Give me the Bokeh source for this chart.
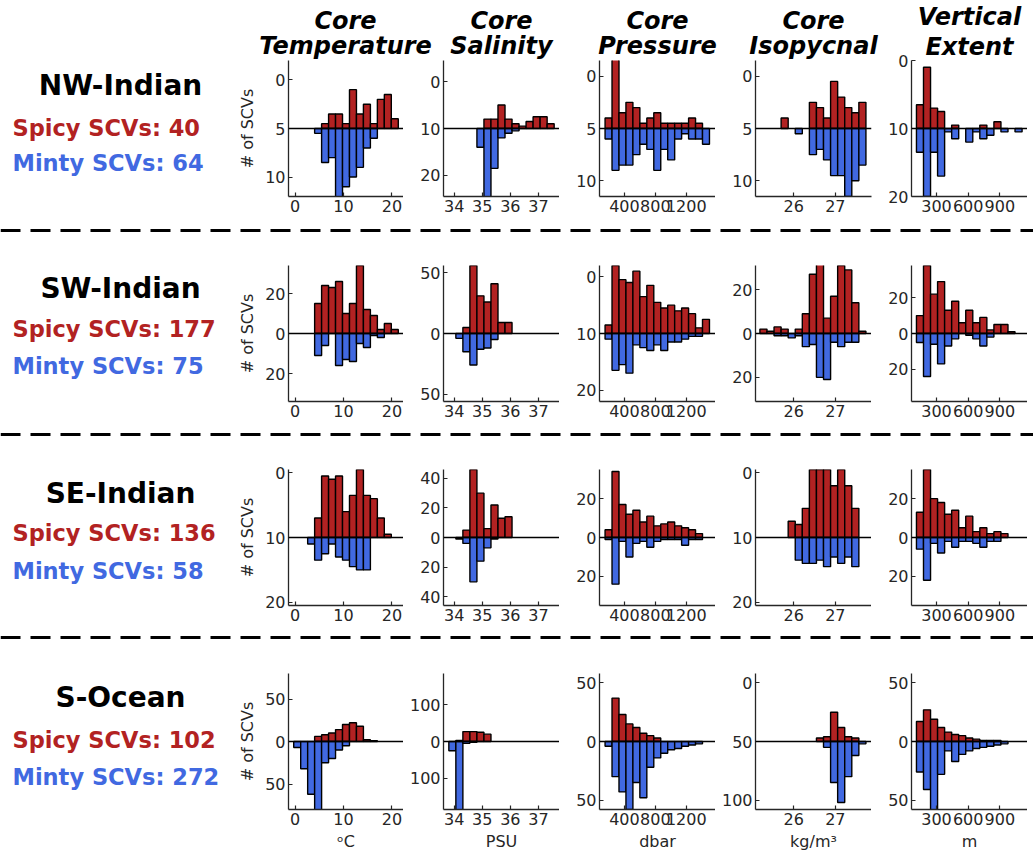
import numpy as np
from bokeh.plotting import figure
from bokeh.layouts import column, row
from bokeh.models import Range1d, FixedTicker, Span, ColumnDataSource, Title
from bokeh.core.properties import value
from bokeh.embed import file_html
from bokeh.resources import INLINE

FONT = "DejaVu Sans"
RED = "#B22222"
BLUE = "#4169E1"
INK = "#262626"

regions = ["NW-Indian", "SW-Indian", "SE-Indian", "S-Ocean"]
spicy_counts = [40, 177, 136, 102]
minty_counts = [64, 75, 58, 272]
col_titles = [("Core", "Temperature"), ("Core", "Salinity"), ("Core", "Pressure"),
              ("Core", "Isopycnal"), ("Vertical", "Extent")]
units = ["\u1d52C", "PSU", "dbar", "kg/m\u00b3", "m"]

# histogram bins (start, width) per variable
bin_start = [-0.28, 33.81, 150, 25.186, 110]
bin_width = [1.44, 0.25, 90, 0.17, 66.7]

x_ticks = [[0, 10, 20], [34, 35, 36, 37], [400, 800, 1200], [26, 27], [300, 600, 900]]
x_lims = [(-1.36, 22.4), (33.62, 37.75), (78, 1578), (25.08, 27.87), (63, 1162)]

# bar heights (spicy up, minty down) per region
temp_spicy = [
    [0, 0, 0, 0, 0.5, 1.5, 1.5, 0.5, 4, 1.5, 2.5, 0.5, 3, 3.5, 1],
    [0, 0, 0, 15, 24, 23, 26, 10, 15, 34, 12, 9, 2, 5, 2],
    [0, 0, 0, 3, 9.5, 9, 9.5, 4, 6.5, 10.5, 6.5, 6, 3, 0.5, 0],
    [0, 0, 0, 6, 8, 10, 14, 20, 22, 18, 2, 1, 0, 0, 0],
]
temp_minty = [
    [0, 0, 0, 0.5, 3.5, 3, 7.5, 6, 5, 4, 2, 1, 0, 0, 0],
    [0, 0, 0, 11, 6, 0, 16, 13, 14, 5, 7, 1, 2, 0, 0],
    [0, 0, 1, 3.5, 2.5, 1, 3, 3.5, 4.5, 5, 5, 0, 0, 0, 0],
    [7, 32, 62, 90, 25, 20, 10, 5, 0, 0, 0, 0, 0, 0, 0],
]
sal_spicy = [
    [0, 0, 0, 0, 0, 2, 2, 5, 2, 1, 0.5, 1.5, 2.5, 2.5, 1, 0],
    [0, 0, 5, 56, 31, 26, 41, 9, 9, 0, 0, 0, 0, 0, 0, 0],
    [0, 0, 5, 46, 30, 6, 22, 13, 14, 0, 0, 0, 0, 0, 0, 0],
    [0, 3, 27, 27, 25, 20, 0, 0, 0, 0, 0, 0, 0, 0, 0, 0],
]
sal_minty = [
    [0, 0, 0, 0, 4, 16, 8.5, 2, 1, 0.5, 0, 0, 0, 0, 0, 0],
    [0, 4, 15, 26, 13, 12, 5, 0, 0, 0, 0, 0, 0, 0, 0, 0],
    [0, 1, 4, 30, 16, 7, 1, 0, 0, 0, 0, 0, 0, 0, 0, 0],
    [25, 240, 5, 2, 0, 0, 0, 0, 0, 0, 0, 0, 0, 0, 0, 0],
]
pres_spicy = [
    [1, 7, 1.5, 2.5, 2, 0.5, 1, 1.5, 0.5, 0.5, 0.5, 0.5, 1, 0.5, 0],
    [1.5, 12, 9.5, 9, 11, 6.5, 8.5, 5.5, 4.5, 5, 4, 4.5, 3.5, 1, 2.5],
    [4, 34, 17, 12, 14, 8, 11, 6, 7, 8, 6, 5, 4, 2, 0],
    [0, 37, 23, 15, 12, 7, 5, 3, 0, 0, 0, 0, 0, 0, 0],
]
pres_minty = [
    [1, 4, 3.5, 3.5, 2.5, 1.5, 2, 4, 2, 3, 1, 0.5, 1, 1, 1.5],
    [1, 6.5, 5.5, 7, 2, 2.5, 3, 2, 3, 1.5, 1.5, 1, 0.5, 0.5, 0],
    [1, 24, 2, 10, 3, 2, 5, 2, 1, 1, 1, 4, 1, 1, 0],
    [4, 30, 43, 58, 35, 48, 22, 14, 10, 7, 6, 4, 3, 2, 0],
]
iso_spicy = [
    [0, 0, 0, 1, 0, 0, 0, 2.5, 2, 1, 4.5, 3, 2, 1.5, 2.5, 0],
    [2, 1, 3, 2, 0, 2, 9, 27, 32, 7, 17, 31, 29, 14, 1, 0],
    [0, 0, 0, 0, 2.5, 2, 4.5, 10.5, 10.5, 10.5, 8, 10.5, 8, 4.5, 0, 0],
    [0, 0, 0, 0, 0, 0, 0, 0, 3, 4, 25, 12, 4, 3, 0, 0],
]
iso_minty = [
    [0, 0, 0, 0, 0, 0.5, 0, 2.5, 2, 3, 4.5, 4.5, 6.5, 5, 3.5, 0],
    [0, 0, 1, 1, 2, 1, 6, 5, 20, 21, 4, 6, 4, 4, 0, 0],
    [0, 0, 0, 0, 0, 3.5, 4, 4, 3.5, 4.5, 3, 4, 3, 4.5, 0, 0],
    [0, 0, 0, 0, 0, 0, 0, 0, 0, 5, 35, 52, 30, 12, 2, 0],
]
vext_spicy = [
    [3.5, 9, 3, 2.5, 0, 0.5, 0, 0, 0, 0.5, 0, 1, 0, 0, 0],
    [10, 38, 22, 29, 13, 18, 6, 13, 6, 9, 2, 5, 5, 1, 0],
    [13, 35, 20, 18, 12, 14, 5, 11, 3, 5, 2, 3, 2, 0, 0],
    [17, 27, 19, 12, 8, 6, 5, 3, 2, 1, 1, 1, 0, 0, 0],
]
vext_minty = [
    [3.5, 10, 3.5, 7, 0.5, 1.5, 0, 2, 0.5, 1.5, 1, 0, 0.5, 0, 0.5],
    [5, 24, 6, 17, 7, 3, 0, 1, 3, 7, 2, 0, 0, 0, 0],
    [6, 22, 3, 8, 2, 5, 2, 2, 3, 5, 2, 2, 0, 0, 0],
    [26, 41, 110, 28, 8, 17, 11, 8, 6, 5, 4, 3, 2, 0, 0],
]
spicy_data = [temp_spicy, sal_spicy, pres_spicy, iso_spicy, vext_spicy]
minty_data = [temp_minty, sal_minty, pres_minty, iso_minty, vext_minty]

# y-axis half ranges, tick positions and tick labels (row x column)
y_lims = [[7, 14.5, 6.5, 6.5, 10],
          [34, 56, 12, 31, 38],
          [10.5, 46, 35, 10.5, 35],
          [80, 185, 58, 58, 58]]
y_ticks = [[[5, 0, -5], [10, 0, -10], [5, 0, -5], [5, 0, -5], [10, 0, -10]],
           [[20, 0, -20], [50, 0, -50], [10, 0, -10], [20, 0, -20], [20, 0, -20]],
           [[10, 0, -10], [40, 20, 0, -20, -40], [20, 0, -20], [10, 0, -10], [20, 0, -20]],
           [[50, 0, -50], [100, 0, -100], [50, 0, -50], [50, 0, -50], [50, 0, -50]]]
y_labels = [[["0", "5", "10"], ["0", "10", "20"], ["0", "5", "10"], ["0", "5", "10"], ["0", "10", "20"]],
            [["20", "0", "20"], ["50", "0", "50"], ["0", "10", "20"], ["20", "0", "20"], ["20", "0", "20"]],
            [["0", "10", "20"], ["40", "20", "0", "20", "40"], ["20", "0", "20"], ["0", "10", "20"], ["20", "0", "20"]],
            [["50", "0", "50"], ["100", "0", "100"], ["50", "0", "50"], ["0", "50", "100"], ["50", "0", "50"]]]

# layout (pixels)
W_TOTAL = 1033
LABEL_W = 235
COL_W = [168, 156, 156, 156, 156]
COL_LEFT = [52, 40, 40, 40, 40]
TITLE_H = 60
EXTRA = 9          # title strip reaches 9px into the fifth column's left margin
ROW_H = [160, 185, 186, 214]     # row 1 sits below the title strip
ROW_TOP = [0, 25, 26, 28]
ROW_BOT = [24, 24, 24, 50]
SEP_H = [20, 18, 16]
NAME_Y = [25, 48, 50, 52]
SPICY_Y = [67, 88, 89, 94]
MINTY_Y = [102, 125, 127, 131]
TICK_FS = "16px"
TITLE_FS = "24px"


def blank(w, h, top=0, bot=0):
    p = figure(width=w, height=h, output_backend="svg", toolbar_location=None,
               x_range=Range1d(0, w), y_range=Range1d(h - bot, top),
               min_border=0, min_border_top=top, min_border_bottom=bot,
               x_axis_type=None, y_axis_type=None)
    p.outline_line_color = None
    p.grid.visible = False
    return p


def panel(r, c, h, top, titles=None, left_adj=0, right_pad=0):
    p = figure(width=COL_W[c] + left_adj + right_pad, height=h, output_backend="svg",
               toolbar_location=None,
               x_range=Range1d(*x_lims[c]), y_range=Range1d(-y_lims[r][c], y_lims[r][c]),
               min_border_left=COL_LEFT[c] + left_adj, min_border_right=right_pad,
               min_border_top=top, min_border_bottom=ROW_BOT[r])
    p.outline_line_color = None
    p.grid.visible = False
    if titles:
        for t in reversed(titles):
            p.add_layout(Title(text=t, align="center", text_font=FONT, text_font_size=TITLE_FS,
                               text_font_style="bold italic", text_color="black",
                               standoff=0), "above")
    n = len(spicy_data[c][r])
    edges = bin_start[c] + bin_width[c] * np.arange(n + 1)
    sp = np.array(spicy_data[c][r], dtype=float)
    mn = np.array(minty_data[c][r], dtype=float)
    ms = sp > 0
    src_s = ColumnDataSource(dict(l=edges[:-1][ms], r=edges[1:][ms], t=sp[ms]))
    mm = mn > 0
    src_m = ColumnDataSource(dict(l=edges[:-1][mm], r=edges[1:][mm], b=-mn[mm]))
    p.quad(left="l", right="r", top="t", bottom=0, source=src_s,
           fill_color=RED, line_color="black", line_width=1.4)
    p.quad(left="l", right="r", top=0, bottom="b", source=src_m,
           fill_color=BLUE, line_color="black", line_width=1.4)
    p.add_layout(Span(location=0, dimension="width", line_color="black", line_width=1.5))

    for ax in (p.xaxis[0], p.yaxis[0]):
        ax.axis_line_color = INK
        ax.axis_line_width = 1.3
        ax.major_tick_in = 4
        ax.major_tick_out = 0
        ax.minor_tick_line_color = None
        ax.major_tick_line_color = INK
        ax.major_tick_line_width = 1.2
        ax.major_label_text_font = FONT
        ax.major_label_text_font_size = TICK_FS
        ax.major_label_text_color = INK
        ax.major_label_standoff = 3
    p.xaxis.ticker = FixedTicker(ticks=x_ticks[c])
    p.yaxis.ticker = FixedTicker(ticks=y_ticks[r][c])
    p.yaxis.major_label_overrides = {t: lab for t, lab in zip(y_ticks[r][c], y_labels[r][c])}
    if c == 0:
        p.yaxis.axis_label = "# of SCVs"
        p.yaxis.axis_label_text_font = FONT
        p.yaxis.axis_label_text_font_style = "normal"
        p.yaxis.axis_label_text_font_size = "16px"
        p.yaxis.axis_label_text_color = INK
        p.yaxis.axis_label_standoff = 5
    if r == 3:
        p.xaxis.axis_label = units[c]
        p.xaxis.axis_label_text_font = FONT
        p.xaxis.axis_label_text_font_style = "normal"
        p.xaxis.axis_label_text_font_size = "16px"
        p.xaxis.axis_label_text_color = INK
        p.xaxis.axis_label_standoff = 4
    return p


def label_fig(r):
    p = blank(LABEL_W, ROW_H[r], ROW_TOP[r], ROW_BOT[r])
    p.text(x=[120], y=[NAME_Y[r]], text=[regions[r]], text_align="center",
           text_baseline="middle", text_font=value(FONT),
           text_font_size="28px", text_font_style="bold", text_color="black")
    p.text(x=[12], y=[SPICY_Y[r]], text=[f"Spicy SCVs: {spicy_counts[r]}"], text_align="left",
           text_baseline="middle", text_font=value(FONT), text_font_size="22.5px",
           text_font_style="bold", text_color=RED)
    p.text(x=[12], y=[MINTY_Y[r]], text=[f"Minty SCVs: {minty_counts[r]}"], text_align="left",
           text_baseline="middle", text_font=value(FONT), text_font_size="22.5px",
           text_font_style="bold", text_color=BLUE)
    return p


def sep_fig(h):
    p = blank(W_TOTAL, h)
    p.add_layout(Span(location=h / 2, dimension="width", line_color="black",
                      line_width=3, line_dash="20 10"))
    return p


# title strip over the label column and the first four panel columns
left_w = LABEL_W + sum(COL_W[:4]) + EXTRA
title = blank(left_w, TITLE_H)
xs = []
x0 = LABEL_W
for c in range(4):
    xs.append(x0 + COL_LEFT[c] + (COL_W[c] - COL_LEFT[c]) / 2)
    x0 += COL_W[c]
title.text(x=xs, y=[20] * 4, text=[col_titles[c][0] for c in range(4)], text_align="center",
           text_baseline="middle", text_font=value(FONT), text_font_size=TITLE_FS,
           text_font_style="bold italic", text_color="black")
title.text(x=xs, y=[45.5] * 4, text=[col_titles[c][1] for c in range(4)], text_align="center",
           text_baseline="middle", text_font=value(FONT), text_font_size=TITLE_FS,
           text_font_style="bold italic", text_color="black")

row1_left = row([label_fig(0)] +
                [panel(0, c, ROW_H[0], ROW_TOP[0], right_pad=(EXTRA if c == 3 else 0))
                 for c in range(4)], spacing=0)
# fifth column of the first row carries its own two-line title
p15 = panel(0, 4, ROW_H[0] + TITLE_H, TITLE_H, titles=list(col_titles[4]), left_adj=-EXTRA)
top_block = row(column(title, row1_left, spacing=0), p15, spacing=0)

items = [top_block, sep_fig(SEP_H[0])]
for r in range(1, 4):
    items.append(row([label_fig(r)] +
                     [panel(r, c, ROW_H[r], ROW_TOP[r]) for c in range(5)], spacing=0))
    if r < 3:
        items.append(sep_fig(SEP_H[r]))

layout = column(items, spacing=0)
open("out.html", "w").write(file_html(layout, INLINE))
